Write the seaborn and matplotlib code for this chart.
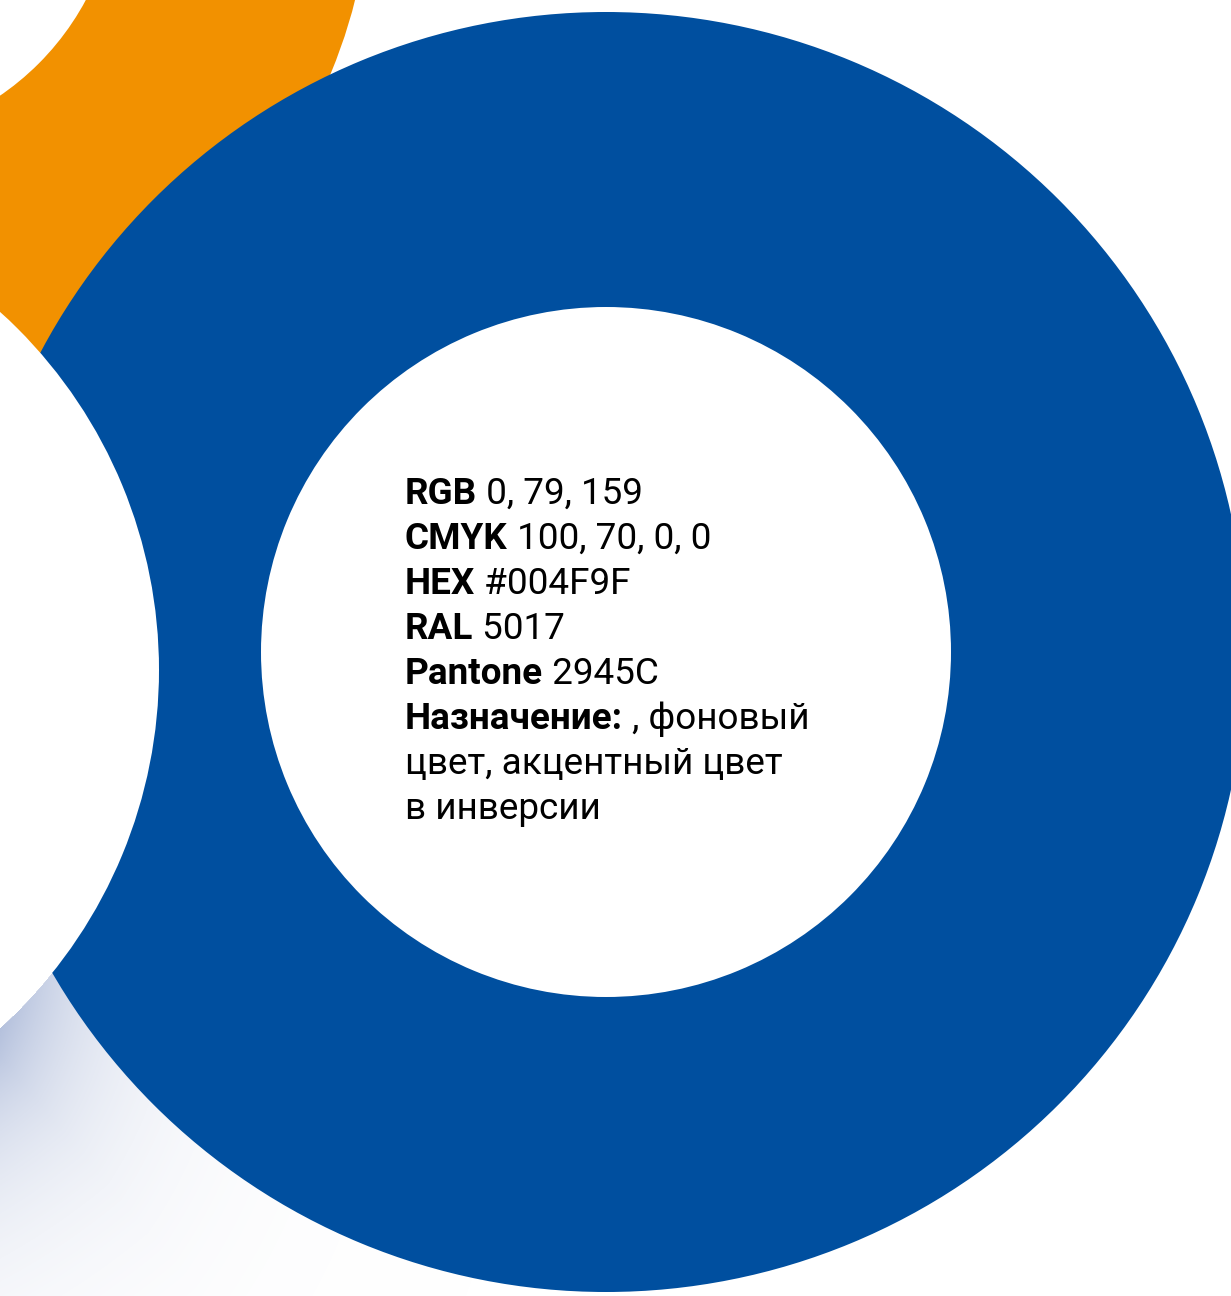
import numpy as np
import matplotlib
matplotlib.use('Agg')
import matplotlib.pyplot as plt
import seaborn as sns

# Brand colour card: values shown in the middle of the ring
labels = ['RGB', 'CMYK', 'HEX', 'RAL', 'Pantone', 'Назначение:']
values = [' 0, 79, 159', ' 100, 70, 0, 0', ' #004F9F', ' 5017', ' 2945C', ' , фоновый']
extra_lines = ['цвет, акцентный цвет', 'в инверсии']
ring_share = [100]

blue = '#004F9F'
orange = '#F29100'
shadow_rgb = (170, 184, 216)

W, H = 1231, 1296

sns.set_theme(style='white')
plt.rcParams['font.family'] = ['Roboto', 'DejaVu Sans']

fig = plt.figure(figsize=(W / 100, H / 100), dpi=100)
ax = fig.add_axes([0, 0, 1, 1])

# soft shadow below the white circle on the left
wc_center = (-324, 670)
wc_radius = 483
xx, yy = np.meshgrid(np.arange(W) + 0.5, np.arange(H) + 0.5)
dist = np.hypot(xx - wc_center[0], yy - wc_center[1]) - wc_radius
ang = np.degrees(np.arctan2(yy - wc_center[1], xx - wc_center[0]))
strength = np.exp(-np.clip(dist, 0, None) / 105) * np.clip((ang - 20) / 30, 0, 1)
strength[dist < 0] = 0
img = np.ones((H, W, 4))
img[..., :3] = np.array(shadow_rgb) / 255
img[..., 3] = strength * 0.95
ax.imshow(img, extent=(0, W, H, 0), origin='upper', zorder=0, interpolation='bilinear')

# orange ring, top left
ax.pie(ring_share, colors=[orange], radius=524, center=(-153, -128),
       wedgeprops=dict(width=253, linewidth=0), frame=True)
for w in ax.patches:
    w.set_zorder(1)

# big blue ring
n0 = len(ax.patches)
ax.pie(ring_share, colors=[blue], radius=640, center=(606, 652),
       wedgeprops=dict(width=295, linewidth=0), frame=True)
for w in ax.patches[n0:]:
    w.set_zorder(2)

# white circle cutting in from the left
n0 = len(ax.patches)
ax.pie(ring_share, colors=['white'], radius=wc_radius, center=wc_center,
       wedgeprops=dict(linewidth=0), frame=True)
for w in ax.patches[n0:]:
    w.set_zorder(3)

ax.set_xlim(0, W)
ax.set_ylim(H, 0)
ax.set_aspect('equal')
ax.axis('off')

x0 = 405
y0 = 504
step = 45
fs = 26.6
for i, (lab, val) in enumerate(zip(labels, values)):
    t = ax.text(x0, y0 + i * step, lab, fontsize=fs, fontweight='bold',
                color='black', va='baseline', ha='left', zorder=5)
    ax.annotate(val, xy=(1, 0), xycoords=t, fontsize=fs, color='black',
                va='bottom', ha='left', zorder=5)
for j, line in enumerate(extra_lines):
    ax.text(x0, y0 + (len(labels) + j) * step, line, fontsize=fs,
            color='black', va='baseline', ha='left', zorder=5)

plt.savefig('out.png', dpi=100)
